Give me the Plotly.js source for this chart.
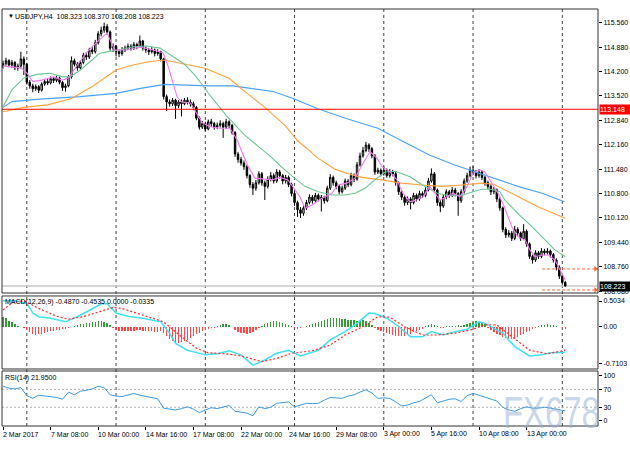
<!DOCTYPE html>
<html><head><meta charset="utf-8">
<script src="https://cdn.plot.ly/plotly-3.0.1.min.js"></script>
<style>
html,body{margin:0;padding:0;background:#fff;}
#wrap{position:relative;width:630px;height:450px;overflow:hidden;}
#chart{width:630px;height:450px;}
#wm{position:absolute;left:503px;top:396px;font:45px 'Liberation Sans',Arial,sans-serif;color:rgba(150,175,210,0.5);transform:scaleX(0.73);transform-origin:left top;pointer-events:none;line-height:33px;height:33px;white-space:nowrap;}
</style>
</head><body><div id="wrap"><div id="chart"></div><div id="wm">FX678</div></div>
<script>
// ---------- price candles (H4 bars, index 0 = 2 Mar 16:00) ----------
const O=[114.35,114.42,114.50,114.38,114.45,114.30,114.35,114.55,114.40,113.90,
113.80,113.72,113.78,113.68,113.85,113.92,113.88,114.00,113.95,114.02,
113.90,113.75,113.80,114.05,114.50,114.40,114.30,114.45,114.65,114.60,
114.80,114.75,115.00,115.25,115.35,115.45,115.30,114.85,114.90,114.75,
114.70,114.80,114.85,114.90,114.85,114.95,114.90,115.05,114.85,114.80,
114.75,114.80,114.70,114.75,114.55,113.50,113.35,113.30,113.40,113.25,
113.35,113.30,113.40,113.35,113.30,113.20,112.90,112.65,112.75,112.60,
112.80,112.75,112.65,112.70,112.75,112.65,112.80,112.70,112.50,111.90,
111.75,111.65,111.55,111.30,111.05,110.95,111.10,111.35,111.10,111.00,
111.20,111.30,111.15,111.40,111.30,111.15,111.25,111.05,110.80,110.55,
110.35,110.25,110.40,110.55,110.70,110.60,110.75,110.65,110.70,110.60,
110.95,111.25,111.10,111.00,110.85,110.95,111.15,111.05,111.30,111.20,
111.60,111.85,112.00,112.15,112.05,111.85,111.40,111.45,111.35,111.45,
111.30,111.40,111.35,111.10,110.85,110.70,110.55,110.65,110.55,110.75,
110.65,110.80,110.75,110.90,111.15,111.35,110.90,110.55,110.45,110.70,
110.85,110.75,110.90,110.80,110.60,110.85,111.15,111.30,111.45,111.40,
111.30,111.40,111.25,111.10,111.00,110.85,110.90,110.65,110.40,109.80,
109.65,109.70,109.55,109.80,109.70,109.55,109.75,109.40,109.05,108.95,
109.15,109.05,109.20,109.15,109.20,109.10,108.95,108.75,108.50,108.323];
const H=[114.50,114.58,114.54,114.52,114.49,114.42,114.75,114.62,114.44,113.96,
113.86,113.84,113.82,113.90,113.98,113.99,114.06,114.05,114.08,114.06,
113.93,113.86,114.10,114.62,114.56,114.46,114.52,114.72,114.74,114.86,
114.90,115.08,115.32,115.45,115.56,115.52,115.34,114.98,114.94,114.82,
114.88,114.92,114.98,114.96,115.02,115.00,115.20,115.08,114.90,114.86,
114.88,114.84,114.82,114.78,114.58,113.56,113.42,113.46,113.44,113.40,
113.42,113.46,113.48,113.42,113.36,113.24,112.95,112.82,112.80,112.86,
112.88,112.80,112.78,112.84,112.80,112.88,112.84,112.74,112.54,111.96,
111.82,111.72,111.60,111.34,111.12,111.18,111.42,111.40,111.16,111.28,
111.40,111.36,111.48,111.46,111.34,111.32,111.30,111.10,110.86,110.60,
110.42,110.48,110.62,110.78,110.76,110.82,110.80,110.76,110.74,111.02,
111.34,111.30,111.16,111.04,111.02,111.22,111.20,111.38,111.36,111.68,
111.94,112.10,112.24,112.20,112.10,111.90,111.52,111.50,111.55,111.50,
111.48,111.46,111.40,111.14,110.90,110.75,110.72,110.70,110.82,110.80,
110.88,110.86,110.98,111.24,111.50,111.40,110.94,110.62,110.78,110.92,
110.90,110.98,110.96,110.84,110.92,111.22,111.38,111.55,111.56,111.46,
111.48,111.44,111.30,111.16,111.06,110.98,110.94,110.70,110.44,109.86,
109.78,109.76,109.90,109.86,109.74,109.95,109.80,109.44,109.10,109.22,
109.20,109.28,109.26,109.28,109.24,109.14,109.00,108.80,108.55,108.370];
const L=[114.28,114.36,114.32,114.30,114.24,114.22,114.28,114.10,113.84,113.72,
113.62,113.66,113.60,113.64,113.80,113.82,113.84,113.88,113.90,113.84,
113.66,113.64,113.76,114.00,114.34,114.22,114.26,114.40,114.52,114.55,
114.68,114.70,114.95,115.18,115.28,115.22,114.78,114.74,114.62,114.60,
114.64,114.74,114.80,114.78,114.80,114.82,114.86,114.78,114.72,114.66,
114.70,114.62,114.64,114.48,113.42,113.10,113.22,113.24,112.88,113.18,
112.95,113.26,113.28,113.22,113.12,112.84,112.58,112.60,112.54,112.56,
112.66,112.58,112.60,112.64,112.35,112.60,112.62,112.44,111.82,111.66,
111.58,111.46,111.22,110.96,110.76,110.88,111.05,111.02,110.62,110.94,
111.14,111.08,111.10,111.22,111.06,111.08,110.98,110.72,110.46,110.15,
110.12,110.18,110.34,110.50,110.52,110.55,110.58,110.30,110.52,110.56,
110.90,111.02,110.92,110.78,110.80,110.90,110.98,111.00,111.12,111.16,
111.55,111.80,111.95,111.96,111.78,111.32,111.34,111.28,111.30,111.24,
111.24,111.28,111.02,110.76,110.62,110.46,110.48,110.36,110.50,110.58,
110.60,110.68,110.70,110.86,111.10,110.84,110.46,110.28,110.40,110.64,
110.68,110.70,110.72,110.18,110.54,110.80,111.10,111.25,111.32,111.22,
111.24,111.18,111.02,110.92,110.76,110.78,110.56,110.32,109.72,109.56,
109.58,109.48,109.50,109.62,109.48,109.50,109.32,108.98,108.85,108.90,
108.98,109.00,109.08,109.10,109.02,108.88,108.66,108.42,108.26,108.208];
const C=[114.42,114.50,114.38,114.45,114.30,114.35,114.55,114.40,113.90,113.80,
113.72,113.78,113.68,113.85,113.92,113.88,114.00,113.95,114.02,113.90,
113.75,113.80,114.05,114.50,114.40,114.30,114.45,114.65,114.60,114.80,
114.75,115.00,115.25,115.35,115.45,115.30,114.85,114.90,114.75,114.70,
114.80,114.85,114.90,114.85,114.95,114.90,115.05,114.85,114.80,114.75,
114.80,114.70,114.75,114.55,113.50,113.35,113.30,113.40,113.25,113.35,
113.30,113.40,113.35,113.30,113.20,112.90,112.65,112.75,112.60,112.80,
112.75,112.65,112.70,112.75,112.65,112.80,112.70,112.50,111.90,111.75,
111.65,111.55,111.30,111.05,110.95,111.10,111.35,111.10,111.00,111.20,
111.30,111.15,111.40,111.30,111.15,111.25,111.05,110.80,110.55,110.35,
110.25,110.40,110.55,110.70,110.60,110.75,110.65,110.70,110.60,110.95,
111.25,111.10,111.00,110.85,110.95,111.15,111.05,111.30,111.20,111.60,
111.85,112.00,112.15,112.05,111.85,111.40,111.45,111.35,111.45,111.30,
111.40,111.35,111.10,110.85,110.70,110.55,110.65,110.55,110.75,110.65,
110.80,110.75,110.90,111.15,111.35,110.90,110.55,110.45,110.70,110.85,
110.75,110.90,110.80,110.60,110.85,111.15,111.30,111.45,111.40,111.30,
111.40,111.25,111.10,111.00,110.85,110.90,110.65,110.40,109.80,109.65,
109.70,109.55,109.80,109.70,109.55,109.75,109.40,109.05,108.95,109.15,
109.05,109.20,109.15,109.20,109.10,108.95,108.75,108.50,108.32,108.223];

// ---------- moving averages (bar index, price) ----------
const fastMaBar=[0,6,8,10,13,17,20,22,25,28,31.5,35,36,37.5,41.7,46,50.4,53.8,55.5,57,58.5,60,63,67,69.6,73,76.3,78.7,80.7,82.4,84.7,87.4,90.4,93.1,95.8,99.8,101.5,103.9,107.2,110.6,112.6,115.6,118.3,121,123.4,125.7,127.4,130,132.4,134.4,136.8,139,141.2,143.5,145.2,146.9,149.2,151.3,153.6,156,158,160.3,162,164.4,166.4,168.7,171,173,175.5,177.1,178.8,181.2,183.2,185.5,187.2,188.2,189];
const fastMa=[114.35,114.30,114.16,113.92,113.96,114.05,113.96,114.02,114.38,114.72,115.02,115.27,115.08,114.80,114.80,114.88,114.80,114.72,114.35,113.90,113.50,113.35,113.32,112.77,112.66,112.62,112.62,112.29,111.87,111.55,111.23,111.20,111.18,111.25,111.18,110.71,110.39,110.48,110.67,110.81,111.04,111.09,111.23,111.64,111.97,111.78,111.55,111.41,111.18,110.81,110.57,110.62,110.71,111.00,110.81,110.62,110.71,110.81,110.71,111.00,111.37,111.46,111.40,111.09,110.81,110.39,109.88,109.60,109.51,109.23,109.04,109.09,109.09,108.95,108.67,108.49,108.40];
const midMaBar=[0,3,7,11.4,15.8,20,22.5,26,29.2,32.6,36,39.3,43.7,48.4,52.8,56.1,61,64.5,69,75,81,86,90,93.5,95.5,98,101.5,106,110.6,115,118.3,121.7,125,128.4,132,136.8,141,146,150,154.6,158,161,164,167,168.7,173,177.8,182.2,185.5,189];
const midMa=[113.22,113.69,114.02,114.12,114.15,114.05,114.05,114.24,114.47,114.71,114.76,114.80,114.89,114.91,114.85,114.66,114.40,114.10,113.60,112.98,112.45,112.10,111.83,111.55,111.40,111.23,111.00,110.85,110.76,110.76,110.81,110.95,111.18,111.40,111.42,111.27,111.04,110.81,110.74,110.76,110.85,110.92,110.92,110.85,110.62,110.25,109.88,109.51,109.23,109.04];
const slowMaBar=[0,7,15,23,30,38,43.6,49,54.4,59.8,67.9,76,81.3,88,95,99,102,105.6,111.6,116,120.6,127.3,134,140.8,147.6,154.3,161,165,171.8,179.8,189];
const slowMa=[113.08,113.20,113.27,113.45,113.78,114.24,114.38,114.47,114.52,114.43,114.29,114.01,113.64,113.20,112.68,112.27,112.07,111.80,111.48,111.35,111.25,111.18,111.09,111.04,111.00,111.04,111.09,111.06,110.76,110.43,110.11];
const longMaBar=[0,3,12.4,25.9,38,46.2,54.4,61,69.2,77.3,82.7,90.8,97.5,105.6,115.1,126,134,140.2,143.5,151.6,158.3,165,173.1,181.2,188.7];
const longMa=[113.20,113.36,113.43,113.50,113.59,113.73,113.84,113.82,113.80,113.80,113.73,113.64,113.45,113.17,112.90,112.62,112.27,112.02,111.87,111.60,111.41,111.23,111.00,110.81,110.57];

// ---------- MACD(12,26,9) ----------
const macdHist=[0.19,0.17,0.12,0.09,0.05,0.02,0,-0.02,
-0.06,-0.10,-0.13,-0.15,-0.14,
-0.13,-0.12,-0.10,-0.08,-0.07,-0.06,-0.05,
-0.04,-0.03,-0.02,0.0,
0.02,0.04,0.05,0.06,0.07,0.08,0.09,0.10,0.11,0.12,0.10,0.08,
0.03,-0.02,
-0.05,-0.07,-0.08,-0.08,-0.08,-0.07,-0.07,-0.06,-0.06,-0.07,-0.07,-0.08,-0.08,-0.09,-0.09,-0.08,
-0.12,-0.18,-0.23,-0.27,-0.30,-0.31,-0.30,-0.28,-0.25,-0.22,
-0.18,-0.14,-0.11,-0.08,-0.05,-0.03,-0.02,-0.01,
0.01,0.03,0.05,0.06,0.04,0.0,
-0.05,-0.09,-0.11,-0.12,-0.13,-0.12,-0.10,-0.06,-0.02,
0.02,0.05,0.08,0.10,
0.11,0.11,0.10,0.08,0.05,0.03,
0.01,-0.02,-0.03,-0.02,0.0,0.02,0.03,
0.05,0.07,0.09,0.11,0.13,0.15,0.17,0.18,0.18,0.17,0.16,0.15,0.14,0.13,0.13,0.12,0.13,0.14,0.12,0.08,0.04,
-0.02,-0.05,-0.08,-0.10,-0.12,-0.14,-0.16,-0.17,-0.18,-0.18,-0.17,-0.15,-0.13,-0.10,-0.08,-0.05,-0.03,
0.01,0.03,0.05,0.04,0.02,
-0.01,-0.02,0.01,0.02,0.01,0.02,0.03,0.02,0.04,
0.06,0.08,0.10,0.11,0.10,0.08,0.05,
-0.02,-0.06,-0.10,-0.13,-0.16,-0.19,-0.21,-0.23,-0.24,-0.22,-0.19,-0.16,-0.13,-0.10,-0.07,-0.04,-0.02,
0.01,0.03,0.04,0.05,0.04,0.03,0.02,0.0,-0.01,-0.03];
const macdBar=[0,4,8,10,12,16,21,25,29,33,35,38,42,47,53,56,58,62,68,72,76,80,84,88,92,96,100,106,110,115,119,123,125,129,133,137,141,144,148,152,156,160,162,168,172,177,181,184,189];
const macdLine=[0.51,0.51,0.46,0.27,0.20,0.17,0.10,0.20,0.32,0.45,0.45,0.27,0.21,0.17,0.10,-0.12,-0.32,-0.45,-0.54,-0.52,-0.46,-0.54,-0.74,-0.64,-0.51,-0.45,-0.56,-0.45,-0.25,-0.09,0.07,0.27,0.26,0.17,0.01,-0.19,-0.19,-0.09,-0.155,-0.09,-0.045,0.10,0.07,-0.12,-0.38,-0.56,-0.54,-0.50,-0.49];
const sigBar=[0,3,7,12,18,22,27,33,37,40,45,50,54,60,65,69,75,80,87,92,97,104,110,115,121,126,130,135,141,146,152,157,162,166,172,177,183,189];
const sigLine=[0.33,0.47,0.51,0.36,0.21,0.15,0.20,0.30,0.38,0.36,0.27,0.17,0.10,-0.19,-0.41,-0.50,-0.52,-0.56,-0.67,-0.61,-0.51,-0.46,-0.35,-0.155,0.006,0.20,0.19,0.006,-0.155,-0.155,-0.12,-0.06,0.04,0.04,-0.22,-0.45,-0.52,-0.45];

// ---------- RSI(14), read every second bar ----------
const rsiVal=[77,73,71,74,56,50,57,55,54,52,48,64,58,66,68,71,77,74,58,55,54,57,61,57,54,52,49,28,26,24,27,31,26,18,24,29,27,31,34,21,19,17,11,31,27,30,39,41,42,31,35,39,38,39,46,52,51,50,55,58,64,69,62,50,51,50,42,33,35,40,43,50,58,40,44,48,49,43,56,61,57,53,48,44,30,24,21,27,31,28,28,30,28,25,22,21.95];

// ---------- axis texts / levels ----------
const tickBars=[0,16,32,48,64,80,96,112,128,144,160,176];
const tickLabels=['2 Mar 2017','7 Mar 08:00','10 Mar 00:00','14 Mar 16:00','17 Mar 08:00','22 Mar 00:00','24 Mar 16:00','29 Mar 08:00','3 Apr 00:00','5 Apr 16:00','10 Apr 08:00','13 Apr 00:00'];
const priceTicks=[115.560,114.880,114.200,113.520,112.840,112.160,111.480,110.800,110.120,109.440,108.760,108.080];
const macdTicks=[0.5034,0,-0.7103];
const macdTickText=['0.5034','0.00','-0.7103'];
const rsiTicks=[100,70,30,0];
const rsiLevels=[70,30];
const redLevel=113.148;
const bidLevel=108.223;
const arrowLevels=[108.70,108.115];
const arrowSpan=[181.2,199.2];
const gridBars=[8,38,68,98,128,158,188];

const bars=C.map((_,i)=>i);
const rsiBar=rsiVal.map((_,k)=>k<95?2*k:189);

const data=[];
data.push({type:'candlestick',x:bars,open:O,high:H,low:L,close:C,xaxis:'x',yaxis:'y',
  increasing:{line:{color:'#000',width:1},fillcolor:'#ffffff'},
  decreasing:{line:{color:'#000',width:1},fillcolor:'#000000'},
  whiskerwidth:0,hoverinfo:'skip'});
function ma(x,y,color){return {type:'scatter',mode:'lines',x:x,y:y,xaxis:'x',yaxis:'y',line:{color:color,width:1.1},hoverinfo:'skip'};}
data.push(ma(longMaBar,longMa,'#4aa3ff'));
data.push(ma(slowMaBar,slowMa,'#ffa23e'));
data.push(ma(midMaBar,midMa,'#6cc795'));
data.push(ma(fastMaBar,fastMa,'#f07cf0'));
arrowLevels.forEach(v=>{
  data.push({type:'scatter',mode:'lines',x:arrowSpan,y:[v,v],xaxis:'x',yaxis:'y',line:{color:'#ff6a3d',width:1,dash:'3px,2px'},hoverinfo:'skip'});
  data.push({type:'scatter',mode:'markers',x:[arrowSpan[1]],y:[v],xaxis:'x',yaxis:'y',marker:{symbol:'triangle-right',size:5,color:'#ff6a3d'},hoverinfo:'skip'});
});
data.push({type:'bar',x:bars,y:macdHist,xaxis:'x',yaxis:'y2',width:0.45,
  marker:{color:macdHist.map(v=>v>=0?'#3a9a3a':'#ff4a4a'),line:{width:0}},hoverinfo:'skip'});
data.push({type:'scatter',mode:'lines',x:macdBar,y:macdLine,xaxis:'x',yaxis:'y2',line:{color:'#3fe3f0',width:1.5},hoverinfo:'skip'});
data.push({type:'scatter',mode:'lines',x:sigBar,y:sigLine,xaxis:'x',yaxis:'y2',line:{color:'#ff2a2a',width:1.2,dash:'2px,2px'},hoverinfo:'skip'});
data.push({type:'scatter',mode:'lines',x:rsiBar,y:rsiVal,xaxis:'x',yaxis:'y3',line:{color:'#3d9be0',width:1},hoverinfo:'skip'});

const dMain=[0.3189,1], dMacd=[0.1367,0.3118], dRsi=[0,0.1319];
const shapes=[];
gridBars.forEach(b=>shapes.push({type:'line',xref:'x',yref:'paper',x0:b,x1:b,y0:0,y1:1,layer:'below',line:{color:'#444',width:1,dash:'3px,3px'}}));
rsiLevels.forEach(v=>shapes.push({type:'line',xref:'paper',yref:'y3',x0:0,x1:1,y0:v,y1:v,layer:'below',line:{color:'#b4b4b4',width:1,dash:'2px,2px'}}));
shapes.push({type:'line',xref:'paper',yref:'y',x0:0,x1:1,y0:bidLevel,y1:bidLevel,layer:'below',line:{color:'#c8c8c8',width:1.5}});
shapes.push({type:'line',xref:'paper',yref:'y',x0:0,x1:1,y0:redLevel,y1:redLevel,layer:'above',line:{color:'#ff0000',width:1}});
[dMain,dMacd,dRsi].forEach(d=>shapes.push({type:'rect',xref:'paper',yref:'paper',x0:0,x1:1,y0:d[0],y1:d[1],layer:'above',line:{color:'#333',width:1},fillcolor:'rgba(0,0,0,0)'}));

const F="'Liberation Sans', Arial, sans-serif";
const ann=[];
ann.push({xref:'paper',yref:'paper',x:0.006,y:0.983,text:'▼',showarrow:false,xanchor:'left',yanchor:'middle',font:{size:6,color:'#000',family:F}});
ann.push({xref:'paper',yref:'paper',x:0.0185,y:0.983,text:'USDJPY,H4  108.323 108.370 108.208 108.223',showarrow:false,xanchor:'left',yanchor:'middle',font:{size:7,color:'#000',family:F}});
ann.push({xref:'paper',yref:'paper',x:0.002,y:0.297,text:'MACD(12,26,9) -0.4870 -0.4535 0.0000 -0.0335',showarrow:false,xanchor:'left',yanchor:'middle',font:{size:7,color:'#000',family:F}});
ann.push({xref:'paper',yref:'paper',x:0.002,y:0.115,text:'RSI(14) 21.9500',showarrow:false,xanchor:'left',yanchor:'middle',font:{size:7,color:'#000',family:F}});
tickBars.forEach((b,k)=>ann.push({xref:'x',yref:'paper',x:b,y:-0.02,text:tickLabels[k],showarrow:false,xanchor:'left',yanchor:'middle',xshift:-2,font:{size:7,color:'#000',family:F}}));
ann.push({xref:'paper',yref:'y',x:1,y:redLevel,text:redLevel.toFixed(3),showarrow:false,xanchor:'left',yanchor:'middle',xshift:1,width:31,height:9,align:'left',borderpad:0,bgcolor:'#ff0000',font:{size:7,color:'#fff',family:F}});
ann.push({xref:'paper',yref:'y',x:1,y:bidLevel,text:bidLevel.toFixed(3),showarrow:false,xanchor:'left',yanchor:'middle',xshift:1,width:31,height:9,align:'left',borderpad:0,bgcolor:'#000000',font:{size:7,color:'#fff',family:F}});

const yCommon={side:'right',anchor:'x',ticks:'outside',ticklen:3,tickcolor:'#000',showgrid:false,zeroline:false,showline:false,fixedrange:true,tickfont:{size:7,color:'#000',family:F}};
const layout={
  width:630,height:450,margin:{l:2,r:32,t:9,b:24},
  paper_bgcolor:'#fff',plot_bgcolor:'#fff',showlegend:false,hovermode:false,bargap:0,
  font:{family:F,size:7,color:'#000'},
  xaxis:{range:[-0.34,200],anchor:'y3',tickvals:tickBars,ticks:'outside',ticklen:3,tickcolor:'#000',showticklabels:false,showgrid:false,zeroline:false,showline:false,fixedrange:true,rangeslider:{visible:false}},
  yaxis:Object.assign({},yCommon,{domain:dMain,range:[108.03,115.94],tickvals:priceTicks,ticktext:priceTicks.map(v=>v.toFixed(3))}),
  yaxis2:Object.assign({},yCommon,{domain:dMacd,range:[-0.814,0.601],tickvals:macdTicks,ticktext:macdTickText}),
  yaxis3:Object.assign({},yCommon,{domain:dRsi,range:[-11.9,111.2],tickvals:rsiTicks,ticktext:rsiTicks.map(String)}),
  shapes:shapes,annotations:ann
};
Plotly.newPlot('chart',data,layout,{staticPlot:true,displayModeBar:false});
</script></body></html>
